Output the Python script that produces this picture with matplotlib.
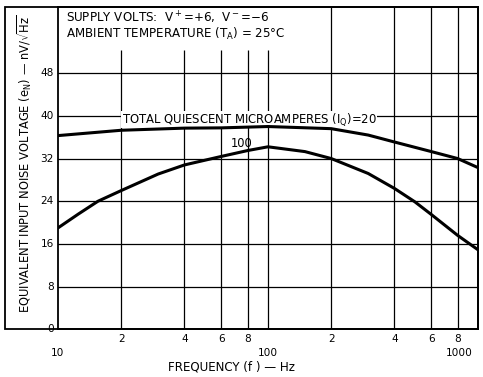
import matplotlib
matplotlib.use("Agg")
import matplotlib.pyplot as plt
from matplotlib.patches import Rectangle

# noise voltage vs frequency, two quiescent currents
freq_20 = [10, 20, 40, 60, 100, 200, 300, 400, 600, 800, 1000]
noise_20 = [36.3, 37.3, 37.7, 37.75, 38.0, 37.6, 36.4, 35.1, 33.3, 32.0, 30.3]

freq_100 = [10, 12.5, 15.5, 20, 30, 40, 60, 80, 100, 150, 200, 300, 400, 500, 600, 800, 1000]
noise_100 = [19.0, 21.6, 24.0, 26.0, 29.1, 30.8, 32.4, 33.5, 34.2, 33.3, 32.0, 29.2,
             26.4, 23.9, 21.5, 17.6, 14.9]

y_ticks = [0, 8, 16, 24, 32, 40, 48]
minor_x = [20, 40, 60, 80, 200, 400, 600, 800]
minor_labels = ["2", "4", "6", "8", "2", "4", "6", "8"]
decade_x = [10, 100, 1000]
decade_labels = ["10", "100", "1000"]

FS = 7.6
plt.rcParams["font.family"] = "DejaVu Sans"
plt.rcParams["mathtext.default"] = "regular"

W, H = 483, 377
fig = plt.figure(figsize=(W / 100, H / 100), dpi=100)
ax = fig.add_axes([58 / W, 1 - 329.3 / H, 420 / W, 322.3 / H])
ax.set_xscale("log")
ax.set_xlim(10, 1000)
ax.set_ylim(0, 60.4)

# grid; the low-frequency verticals stop short of the header text
for y in y_ticks[1:]:
    ax.axhline(y, color="black", lw=0.9, zorder=1)
for x in minor_x + [100]:
    top = 52.4 if x <= 100 else 60.4
    ax.vlines(x, 0, top, color="black", lw=0.9, zorder=1)

ax.plot(freq_20, noise_20, color="black", lw=2.2, zorder=3)
ax.plot(freq_100, noise_100, color="black", lw=2.2, zorder=3)

# white box blanks the 40 gridline behind the curve label
ax.text(20.1, 38.7, "TOTAL QUIESCENT MICROAMPERES (I$_Q$)=20", fontsize=8.4,
        va="baseline", ha="left", zorder=2,
        bbox=dict(facecolor="white", edgecolor="none", pad=0.4))
ax.text(75, 34.1, "100", fontsize=8.3, va="baseline", ha="center", zorder=4)

ax.text(10.9, 57.45, "SUPPLY VOLTS:  V$^+$=+6,  V$^-$=\u22126", fontsize=8.6,
        va="baseline", ha="left")
ax.text(10.9, 54.6, "AMBIENT TEMPERATURE (T$_A$) = 25\u00b0C", fontsize=8.6,
        va="baseline", ha="left")

ax.set_xticks([])
ax.set_yticks([])
ax.minorticks_off()
for s in ax.spines.values():
    s.set_linewidth(1.3)

# y tick labels sit inside the outer frame
for v in y_ticks:
    ax.annotate(str(v), (10, v), xytext=(-3, 0), textcoords="offset points",
                ha="right", va="center", fontsize=FS, annotation_clip=False)

# two rows of x labels
for x, lab in zip(minor_x, minor_labels):
    ax.annotate(lab, (x, 0), xytext=(0, -3.5), textcoords="offset points",
                ha="center", va="top", fontsize=FS, annotation_clip=False)
for x, lab in zip(decade_x, decade_labels):
    ha = "right" if x == 1000 else "center"
    dx = -4 if x == 1000 else 0
    ax.annotate(lab, (x, 0), xytext=(dx, -13.5), textcoords="offset points",
                ha=ha, va="top", fontsize=FS, annotation_clip=False)

fig.text(232 / W, 1 - 367 / H, "FREQUENCY (f ) \u2014 Hz", fontsize=8.6,
         ha="center", va="center")
fig.text(25 / W, 1 - 164 / H,
         "EQUIVALENT INPUT NOISE VOLTAGE (e$_N$) \u2014 nV/$\\sqrt{Hz}$",
         fontsize=8.3, rotation=90, ha="center", va="center")

# outer frame around the y label
fig.add_artist(Rectangle((5 / W, 1 - 329.3 / H), 473 / W, 322.3 / H,
                         transform=fig.transFigure, fill=False,
                         edgecolor="black", lw=1.3))

fig.savefig("out.png", dpi=100)
